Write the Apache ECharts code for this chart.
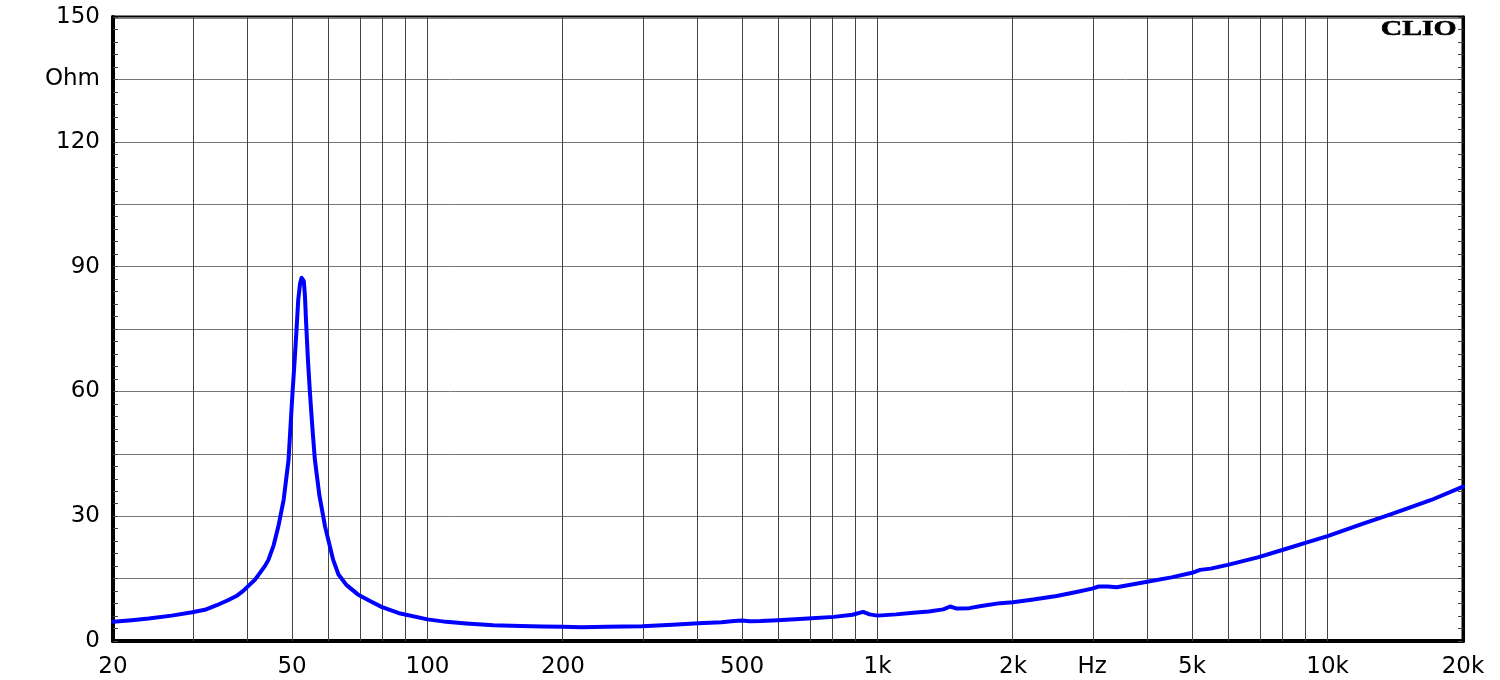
<!DOCTYPE html>
<html>
<head>
<meta charset="utf-8">
<script src="https://cdn.jsdelivr.net/npm/echarts@6/dist/echarts.min.js"></script>
<style>
html,body{margin:0;padding:0;background:#fff;}
#chart{width:1500px;height:680px;}
</style>
</head>
<body>
<div id="chart"></div>
<script>
// Frequency (Hz)
const freqHz = [20,22,24,27,30,32,34,36,37.6,39,40.2,41.4,42.5,43.5,44.3,45.5,46.6,47.9,49.1,50.1,50.7,51.2,51.6,52.1,52.5,52.8,53.1,53.4,53.7,54.2,54.8,55.5,56.2,57.5,59.2,61.7,63.4,66,70,74.5,79,87,100,110,122,140,161,180,200,220,250,300,350,400,450,480,500,520,550,600,670,700,800,880,929,960,1000,1100,1200,1300,1400,1450,1500,1600,1700,1871,2000,2200,2500,2750,3000,3100,3250,3400,4000,4500,5000,5210,5500,6000,7000,8000,9000,10000,12000,13700,15000,17000,20000];
// Impedance (Ohm)
const impedanceOhm = [4.6,5.0,5.4,6.1,6.9,7.5,8.6,9.8,10.8,12.1,13.5,14.8,16.5,18.0,19.5,23.0,27.5,34.0,43.5,59.5,68.0,75.6,82.0,86.0,87.3,87.5,86.5,83.0,77.0,68.0,59.5,51.0,43.5,35.0,27.5,19.5,16.0,13.5,11.2,9.6,8.2,6.6,5.2,4.6,4.2,3.8,3.6,3.5,3.4,3.3,3.4,3.55,3.9,4.25,4.5,4.8,4.9,4.75,4.8,5.0,5.3,5.4,5.8,6.3,7.0,6.4,6.1,6.4,6.8,7.1,7.6,8.3,7.8,7.9,8.4,9.1,9.3,9.9,10.8,11.7,12.6,13.1,13.1,12.9,14.3,15.3,16.4,17.1,17.4,18.3,20.1,22.0,23.7,25.2,28.2,30.3,31.8,33.9,37.1];
// X tick labels
const xTickFreqs = [20,50,100,200,500,1000,2000,3000,5000,10000,20000];
const xTickLabels = ['20','50','100','200','500','1k','2k','Hz','5k','10k','20k'];
// Vertical grid frequencies
const xGridFreqs = [30,40,50,60,70,80,90,100,200,300,400,500,600,700,800,900,1000,2000,3000,4000,5000,6000,7000,8000,9000,10000];
// Y tick labels
const yTickValues = [0,30,60,90,120,135,150];
const yTickLabels = ['0','30','60','90','120','Ohm','150'];

const lg = Math.log10;
const lineData = freqHz.map((f,i)=>[lg(f), impedanceOhm[i]]);
const font = '"DejaVu Sans", Verdana, sans-serif';

const chart = echarts.init(document.getElementById('chart'), null, {renderer:'canvas'});
chart.setOption({
  animation:false,
  backgroundColor:'#fff',
  grid:{left:113,right:37,top:17,bottom:39,show:true,borderColor:'#000',borderWidth:3,containLabel:false},
  xAxis:{
    type:'value', min:lg(20), max:lg(20000),
    axisLine:{show:true,lineStyle:{color:'#000',width:4}},
    axisTick:{show:false},
    splitLine:{show:false},
    axisLabel:{
      customValues:xTickFreqs.map(lg),
      formatter:function(v){
        for(let i=0;i<xTickFreqs.length;i++){ if(Math.abs(lg(xTickFreqs[i])-v)<1e-6) return xTickLabels[i]; }
        return '';
      },
      color:'#000', fontSize:23, fontFamily:font, margin:15
    }
  },
  yAxis:[{
    type:'value', min:0, max:150, interval:15, position:'left',
    axisLine:{show:true,lineStyle:{color:'#000',width:4}},
    axisTick:{show:true,inside:true,length:5,lineStyle:{color:'#444'}},
    minorTick:{show:true,splitNumber:5,length:5,lineStyle:{color:'#444'}},
    splitLine:{show:true,lineStyle:{color:'#777',width:1}},
    axisLabel:{
      formatter:function(v){
        for(let i=0;i<yTickValues.length;i++){ if(Math.abs(yTickValues[i]-v)<1e-6) return yTickLabels[i]; }
        return '';
      },
      color:'#000', fontSize:23, fontFamily:font, margin:13
    }
  },{
    type:'value', min:0, max:150, interval:15, position:'right',
    axisLine:{show:true,lineStyle:{color:'#000',width:3}},
    axisTick:{show:true,inside:true,length:5,lineStyle:{color:'#444'}},
    minorTick:{show:true,splitNumber:5,length:5,lineStyle:{color:'#444'}},
    splitLine:{show:false},
    axisLabel:{show:false}
  }],
  graphic:[{
    type:'text', right:43, top:18, z:100,
    style:{text:'CLIO', font:'bold 22px "Liberation Serif", "DejaVu Serif", serif', fill:'#000', stroke:'#000', lineWidth:0.6},
    scaleX:1.35, originX:0
  }],
  series:[{
    type:'line', data:[], z:1, silent:true,
    markLine:{
      silent:true, symbol:['none','none'], label:{show:false},
      lineStyle:{color:'#444',width:1,type:'solid'},
      emphasis:{disabled:true},
      data:xGridFreqs.map(f=>({xAxis:lg(f)}))
    }
  },{
    type:'line', data:lineData, z:5, showSymbol:false, smooth:false,
    lineStyle:{color:'#0000ff',width:4,join:'round',cap:'round'}, silent:true
  }]
});
</script>
</body>
</html>
